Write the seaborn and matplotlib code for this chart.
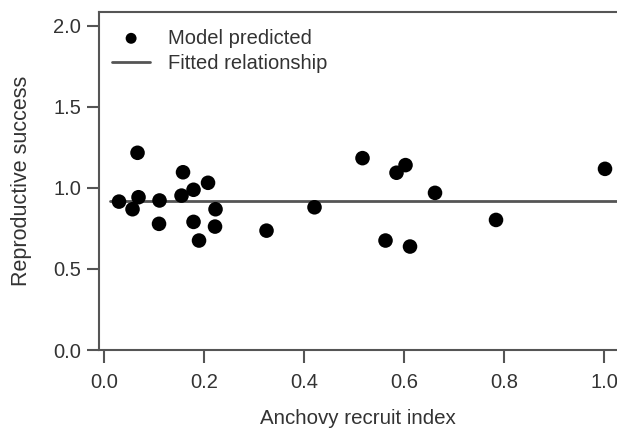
import matplotlib
matplotlib.use("Agg")
import pandas as pd
import seaborn as sns
from matplotlib import pyplot as plt

# Datos
recruit_index = [0.03, 0.057, 0.067, 0.069, 0.111, 0.11, 0.158, 0.155, 0.179, 0.208,
                 0.179, 0.19, 0.223, 0.222, 0.325, 0.421, 0.517, 0.585, 0.603, 0.662,
                 0.563, 0.612, 0.784, 1.002]
repro_success = [0.915, 0.868, 1.216, 0.942, 0.922, 0.778, 1.096, 0.952, 0.988, 1.031,
                 0.79, 0.675, 0.868, 0.761, 0.736, 0.88, 1.183, 1.093, 1.14, 0.969,
                 0.675, 0.638, 0.802, 1.117]
fit_x = [0.012, 1.03]
fit_y = [0.92, 0.92]

df = pd.DataFrame({"x": recruit_index, "y": repro_success})
df_fit = pd.DataFrame({"x": fit_x, "y": fit_y})

sns.set_style("ticks")
plt.rcParams["font.family"] = ["Liberation Sans", "DejaVu Sans"]
plt.rcParams["font.size"] = 14.5

grey = "#555555"
fig = plt.figure(figsize=(6.17, 4.28), dpi=100)
ax = fig.add_axes([0.1605, 0.1822, 0.8395, 0.7905])

sns.lineplot(data=df_fit, x="x", y="y", color=grey, linewidth=2, label="Fitted relationship", ax=ax)
sns.scatterplot(data=df, x="x", y="y", color="black", s=110, edgecolor="none",
                label="Model predicted", ax=ax, zorder=3)

ax.set_xlim(-0.01, 1.026)
ax.set_ylim(0, 2.086)
ax.set_xticks([0.0, 0.2, 0.4, 0.6, 0.8, 1.0])
ax.set_yticks([0.0, 0.5, 1.0, 1.5, 2.0])
ax.xaxis.set_major_formatter(plt.FuncFormatter(lambda v, _: f"{v:.1f}"))
ax.yaxis.set_major_formatter(plt.FuncFormatter(lambda v, _: f"{v:.1f}"))

for side in ["left", "bottom", "top"]:
    ax.spines[side].set_color(grey)
    ax.spines[side].set_linewidth(1.5)
ax.spines["right"].set_visible(False)
ax.tick_params(colors=grey, labelcolor="#333333", length=9, width=1.5, pad=4)
ax.tick_params(axis="x", pad=7.5)

ax.set_xlabel("Anchovy recruit index", color="#333333", fontsize=14.8, labelpad=12)
ax.set_ylabel("Reproductive success", color="#333333", fontsize=15.5, labelpad=15)

handles, labels = ax.get_legend_handles_labels()
order = [labels.index("Model predicted"), labels.index("Fitted relationship")]
ax.legend([handles[i] for i in order], [labels[i] for i in order],
          loc="upper left", bbox_to_anchor=(0.025, 0.95), frameon=False,
          borderpad=0, borderaxespad=0, handlelength=1.9, handletextpad=0.9,
          labelspacing=0.3, markerscale=0.75, labelcolor="#333333")

plt.savefig("out.png", dpi=100)
